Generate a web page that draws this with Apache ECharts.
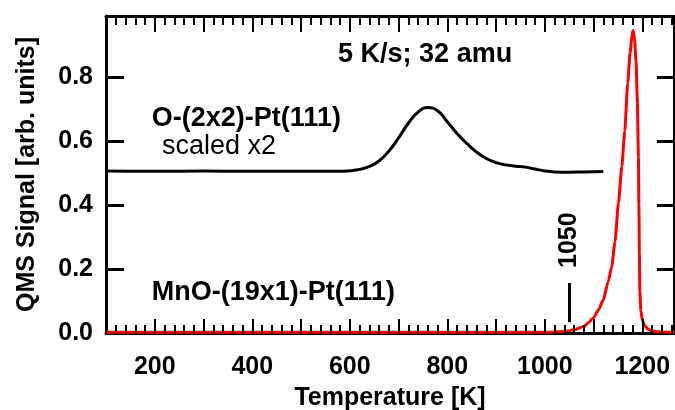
<!DOCTYPE html>
<html>
<head>
<meta charset="utf-8">
<script src="https://cdn.jsdelivr.net/npm/echarts@6/dist/echarts.min.js"></script>
<style>
  html, body { margin: 0; padding: 0; background: #fff; }
  #chart { width: 675px; height: 410px; }
</style>
</head>
<body>
<div id="chart"></div>
<script>
// O-(2x2)-Pt(111) desorption trace (scaled x2)
const oxygenTemp = [100, 200, 300, 400, 500, 560, 580, 600, 620, 640, 660, 680, 700, 720, 740, 760, 780, 800, 820, 840, 860, 880, 900, 920, 940, 960, 980, 1000, 1020, 1050, 1080, 1120];
const oxygenSignal = [0.506, 0.505, 0.506, 0.505, 0.505, 0.505, 0.505, 0.507, 0.511, 0.520, 0.537, 0.568, 0.609, 0.655, 0.690, 0.704, 0.694, 0.660, 0.623, 0.592, 0.565, 0.545, 0.532, 0.525, 0.521, 0.518, 0.512, 0.506, 0.503, 0.502, 0.503, 0.504];

// MnO-(19x1)-Pt(111) desorption trace
const mnoTemp = [100, 1000, 1040, 1060, 1080, 1090, 1100, 1110, 1120, 1130, 1137, 1144, 1151, 1158, 1164, 1170, 1175, 1179, 1181, 1184, 1187, 1190, 1192, 1193, 1194, 1195, 1197, 1200, 1205, 1212, 1220, 1235, 1265];
const mnoSignal = [0.002, 0.002, 0.005, 0.010, 0.020, 0.033, 0.048, 0.072, 0.103, 0.160, 0.205, 0.285, 0.405, 0.520, 0.630, 0.780, 0.875, 0.930, 0.945, 0.920, 0.850, 0.720, 0.550, 0.400, 0.250, 0.130, 0.070, 0.040, 0.022, 0.012, 0.006, 0.003, 0.002];

// Axis ranges and tick labels
const xMin = 100, xMax = 1265;
const yMin = 0, yMax = 0.99;
const xTickLabels = [200, 400, 600, 800, 1000, 1200];
const yTickLabels = ['0.0', '0.2', '0.4', '0.6', '0.8'];
const xMinorStep = 20, xMajorStep = 100;

// Onset marker
const onsetTemp = 1050;
const onsetRange = [0.034, 0.156];

const FONT = "'Liberation Sans', Arial, Helvetica, sans-serif";

function zip(a, b) { return a.map((v, i) => [v, b[i]]); }

// Temperature tick positions for the top and bottom frame edges
const xTickValues = [];
for (let t = xMin; t < xMax; t += xMinorStep) xTickValues.push(t);

const chart = echarts.init(document.getElementById('chart'));

const option = {
  animation: false,
  grid: { left: 106, right: 1, top: 16, bottom: 77, containLabel: false, outerBoundsMode: 'none' },
  xAxis: [
    {
      type: 'value', min: xMin, max: xMax, interval: xMajorStep, position: 'bottom',
      splitLine: { show: false },
      axisLine: { show: true, onZero: false, lineStyle: { color: '#000', width: 3 } },
      axisTick: { show: false },
      axisLabel: {
        show: true, margin: 22, color: '#000', fontFamily: FONT, fontWeight: 'bold', fontSize: 25,
        formatter: v => (xTickLabels.indexOf(Math.round(v)) >= 0 && Math.abs(v - Math.round(v)) < 1e-6) ? String(Math.round(v)) : ''
      },
      name: 'Temperature [K]', nameLocation: 'middle', nameGap: 53,
      nameTextStyle: { color: '#000', fontFamily: FONT, fontWeight: 'bold', fontSize: 25 }
    },
    {
      type: 'value', min: xMin, max: xMax, interval: xMajorStep, position: 'top',
      splitLine: { show: false },
      axisLine: { show: true, onZero: false, lineStyle: { color: '#000', width: 3 } },
      axisTick: { show: false },
      axisLabel: { show: false }
    }
  ],
  yAxis: [
    {
      type: 'value', position: 'left', min: yMin, max: yMax, interval: 0.2,
      splitLine: { show: false },
      axisLine: { show: true, onZero: false, lineStyle: { color: '#000', width: 3 } },
      axisTick: { show: true, inside: true, length: 18, lineStyle: { color: '#000', width: 3 } },
      axisLabel: {
        margin: 13, color: '#000', fontFamily: FONT, fontWeight: 'bold', fontSize: 25,
        formatter: v => {
          const s = v.toFixed(1);
          return (Math.abs(v * 5 - Math.round(v * 5)) < 1e-6 && yTickLabels.indexOf(s) >= 0) ? s : '';
        }
      },
      name: 'QMS Signal [arb. units]', nameLocation: 'middle', nameGap: 66,
      nameTextStyle: { color: '#000', fontFamily: FONT, fontWeight: 'bold', fontSize: 25 }
    },
    {
      type: 'value', position: 'right', min: yMin, max: yMax, interval: 0.2,
      splitLine: { show: false },
      axisLine: { show: true, onZero: false, lineStyle: { color: '#000', width: 2 } },
      axisTick: { show: true, inside: true, length: 17, lineStyle: { color: '#000', width: 3 } },
      axisLabel: { show: false }
    }
  ],
  series: [
    {
      name: 'O-(2x2)-Pt(111)', type: 'line', xAxisIndex: 0, yAxisIndex: 0,
      data: zip(oxygenTemp, oxygenSignal),
      showSymbol: false, smooth: 0.5,
      lineStyle: { color: '#000', width: 3 }, z: 3
    },
    {
      name: 'MnO-(19x1)-Pt(111)', type: 'line', xAxisIndex: 0, yAxisIndex: 0,
      data: zip(mnoTemp, mnoSignal),
      showSymbol: false, smooth: 0.2, smoothMonotone: 'x',
      lineStyle: { color: '#ff0000', width: 3 }, z: 4,
      markLine: {
        silent: true, symbol: 'none', animation: false,
        lineStyle: { color: '#000', width: 3, type: 'solid' },
        label: { show: false },
        data: [[{ coord: [onsetTemp, onsetRange[0]] }, { coord: [onsetTemp, onsetRange[1]] }]]
      }
    }
  ]
};

chart.setOption(option);

// Inward temperature ticks on the top and bottom frame edges (lengths given in pixels)
const yPx0 = chart.convertToPixel({ yAxisIndex: 0 }, yMin);
const yPx1 = chart.convertToPixel({ yAxisIndex: 0 }, yMax);
const unitsPerPx = (yMax - yMin) / (yPx0 - yPx1);
const tickSegments = [];
xTickValues.forEach(t => {
  const major = Math.abs(t / xMajorStep - Math.round(t / xMajorStep)) < 1e-6;
  const lb = (major ? 14 : 8) * unitsPerPx;
  const lt = (major ? 16 : 9) * unitsPerPx;
  tickSegments.push([{ coord: [t, yMin] }, { coord: [t, yMin + lb] }]);
  tickSegments.push([{ coord: [t, yMax] }, { coord: [t, yMax - lt] }]);
});

// Text annotations placed in data coordinates
const notes = [
  { text: '5 K/s; 32 amu', at: [576, 0.869], bold: true },
  { text: 'O-(2x2)-Pt(111)', at: [194, 0.669], bold: true },
  { text: 'scaled x2', at: [215, 0.582], bold: false },
  { text: 'MnO-(19x1)-Pt(111)', at: [194, 0.127], bold: true }
];

const graphics = notes.map(n => {
  const p = chart.convertToPixel({ xAxisIndex: 0, yAxisIndex: 0 }, n.at);
  return {
    type: 'text', x: p[0], y: p[1], z: 10,
    style: {
      text: n.text, fill: '#000', fontFamily: FONT,
      fontWeight: n.bold ? 'bold' : 'normal', fontSize: 27,
      textAlign: 'left', textVerticalAlign: 'middle'
    }
  };
});

const lp = chart.convertToPixel({ xAxisIndex: 0, yAxisIndex: 0 }, [onsetTemp, 0.29]);
graphics.push({
  type: 'text', x: lp[0], y: lp[1], rotation: Math.PI / 2, z: 10,
  style: {
    text: String(onsetTemp), fill: '#000', fontFamily: FONT, fontWeight: 'bold', fontSize: 25,
    textAlign: 'center', textVerticalAlign: 'middle'
  }
});

chart.setOption({
  series: [
    {
      name: 'O-(2x2)-Pt(111)',
      markLine: {
        silent: true, symbol: 'none', animation: false,
        lineStyle: { color: '#000', width: 2, type: 'solid' },
        label: { show: false },
        data: tickSegments
      }
    }
  ],
  graphic: graphics
});
</script>
</body>
</html>
